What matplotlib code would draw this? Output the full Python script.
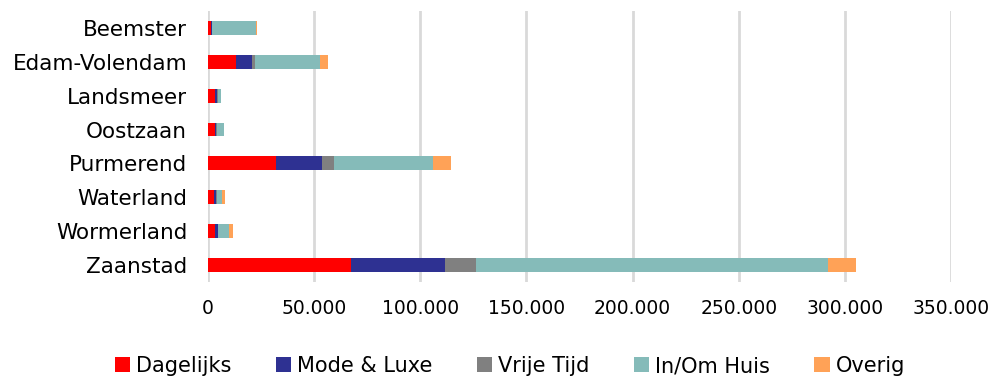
import matplotlib
matplotlib.use("Agg")
import matplotlib.pyplot as plt
from matplotlib.ticker import FuncFormatter

gemeenten = ["Beemster", "Edam-Volendam", "Landsmeer", "Oostzaan",
             "Purmerend", "Waterland", "Wormerland", "Zaanstad"]
series = ["Dagelijks", "Mode & Luxe", "Vrije Tijd", "In/Om Huis", "Overig"]
dagelijks = [1500, 13000, 3500, 3300, 31900, 2800, 3400, 67300]
mode_luxe = [300, 7500, 900, 600, 21700, 1100, 1100, 44100]
vrije_tijd = [200, 1400, 300, 200, 5600, 400, 200, 14600]
in_om_huis = [20800, 31000, 1400, 3400, 46600, 2500, 5300, 165900]
overig = [200, 3600, 200, 100, 8800, 1400, 1600, 13300]
colors = ["#FF0000", "#2E3192", "#808080", "#85BBB9", "#FFA257"]
xticks = [0, 50000, 100000, 150000, 200000, 250000, 300000, 350000]

plt.rcParams['font.family'] = ['DejaVu Sans']
fig = plt.figure(figsize=(9.92, 3.76), dpi=100)
ax = fig.add_axes([0.2097, 0.25, 0.749, 0.721])

ypos = list(range(len(gemeenten)))
left = [0] * len(gemeenten)
for name, vals, c in zip(series, [dagelijks, mode_luxe, vrije_tijd, in_om_huis, overig], colors):
    ax.barh(ypos, vals, left=left, height=0.41, color=c, label=name, zorder=3)
    left = [l + v for l, v in zip(left, vals)]

ax.set_ylim(len(gemeenten) - 0.5, -0.5)
ax.set_yticks(ypos)
ax.set_yticklabels(gemeenten, fontsize=15.5)
ax.set_xlim(0, 350000)
ax.set_xticks(xticks)
ax.xaxis.set_major_formatter(FuncFormatter(lambda v, p: "0" if v == 0 else f"{int(v):,}".replace(",", ".")))
ax.tick_params(axis='x', labelsize=13.5, length=0, pad=12)
ax.tick_params(axis='y', length=0, pad=15)
ax.grid(axis='x', color='#D9D9D9', linewidth=2, zorder=0)
for s in ax.spines.values():
    s.set_visible(False)

leg = fig.legend(loc='lower center', bbox_to_anchor=(0.514, -0.05), ncol=5, frameon=False,
                 fontsize=15, handlelength=0.75, handleheight=0.75, handletextpad=0.3,
                 columnspacing=2.1)
fig.savefig("out.png", dpi=100)
